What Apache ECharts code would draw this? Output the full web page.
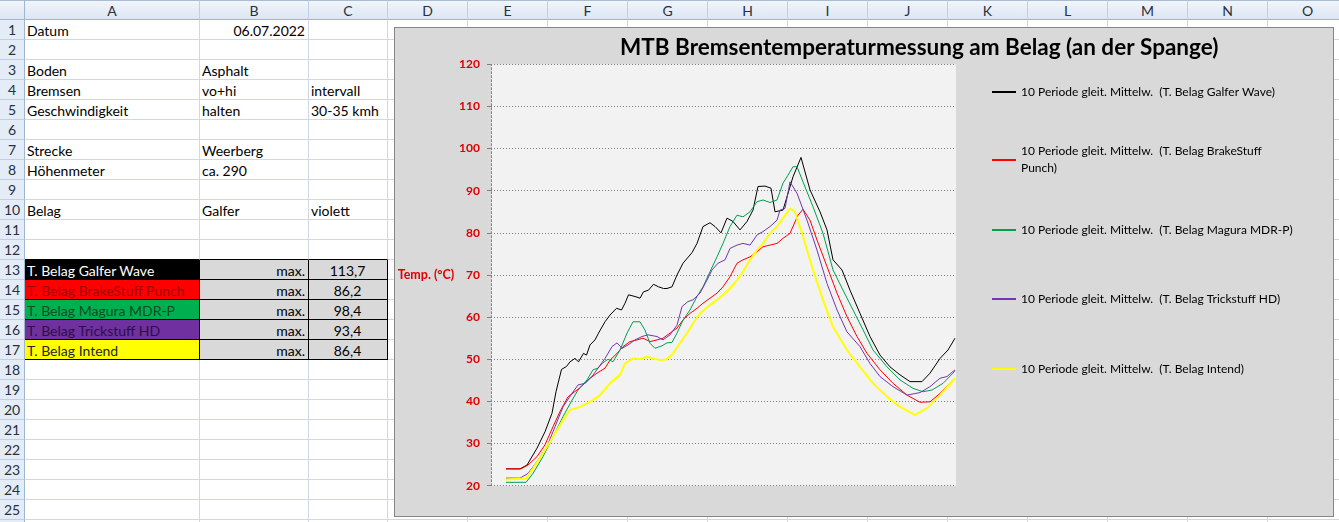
<!DOCTYPE html>
<html><head><meta charset="utf-8">
<script src="https://cdn.jsdelivr.net/npm/echarts@6/dist/echarts.min.js"></script>
<style>
html,body{margin:0;padding:0;width:1339px;height:522px;overflow:hidden;background:#fff;font-family:Lato,"Open Sans",sans-serif;}
#sheet{position:absolute;left:0;top:0;width:1339px;height:522px;}
.cell{position:absolute;box-sizing:border-box;border-right:1px solid #d0d7e5;border-bottom:1px solid #d0d7e5;font-size:14px;line-height:19px;white-space:nowrap;padding:1px 3px 0 2px;color:#000;}
.colh{position:absolute;top:0;height:20px;box-sizing:border-box;border-right:1px solid #c2cfe0;border-bottom:1px solid #9eb6ce;background:linear-gradient(#f1f5fb,#dce6f2);font-size:14px;line-height:20px;text-align:center;color:#27313f;border-top:1px solid #a9bcd3;}
.rowh{position:absolute;left:0;width:25px;height:20px;box-sizing:border-box;border-right:1px solid #9eb6ce;border-bottom:1px solid #c2cfe0;background:#e4ecf7;font-size:14px;line-height:20px;text-align:center;color:#27313f;}
#frame{position:absolute;left:394px;top:27px;width:940px;height:490px;box-sizing:border-box;border:1px solid #868686;background:#d9d9d9;}
#chart{position:absolute;left:395px;top:28px;width:938px;height:488px;}
</style>
</head><body>
<div id="sheet"></div>
<div id="frame"></div>
<div id="chart"></div>
<script>
// ---- spreadsheet content ----
const colNames = ['A','B','C','D','E','F','G','H','I','J','K','L','M','N','O'];
const colEdges = [25,200,309,388,468,548,628,708,788,868,948,1028,1108,1188,1268,1348];
const rowCount = 26;
const infoCells = [
  [1,'A','Datum'],[1,'B','06.07.2022','right'],
  [3,'A','Boden'],[3,'B','Asphalt'],
  [4,'A','Bremsen'],[4,'B','vo+hi'],[4,'C','intervall'],
  [5,'A','Geschwindigkeit'],[5,'B','halten'],[5,'C','30-35 kmh'],
  [7,'A','Strecke'],[7,'B','Weerberg'],
  [8,'A','Höhenmeter'],[8,'B','ca. 290'],
  [10,'A','Belag'],[10,'B','Galfer'],[10,'C','violett']
];
const padNames = ['T. Belag Galfer Wave','T. Belag BrakeStuff Punch','T. Belag Magura MDR-P','T. Belag Trickstuff HD','T. Belag Intend'];
const padMaxLabel = 'max.';
const padMax = ['113,7','86,2','98,4','93,4','86,4'];
const padFill = ['#000000','#ff0000','#00b050','#7030a0','#ffff00'];
const padText = ['#ffffff','#a00000','#0b4d22','#2c0f48','#262626'];

// ---- chart data (time index t, temperature °C) ----
const seriesNames = [
  '10 Periode gleit. Mittelw. (T. Belag Galfer Wave)',
  '10 Periode gleit. Mittelw. (T. Belag BrakeStuff Punch)',
  '10 Periode gleit. Mittelw. (T. Belag Magura MDR-P)',
  '10 Periode gleit. Mittelw. (T. Belag Trickstuff HD)',
  '10 Periode gleit. Mittelw. (T. Belag Intend)'
];
const galferT = [30,58,72,92,108,122,130,141,151,158,168,175,185,191,198,208,215,228,238,251,261,268,275,288,298,305,315,325,335,345,352,362,372,384,402,412,424,438,448,460,472,484,498,512,524,534,548,560,568,584,604,620,638,658,672,684,702,718,738,758,778,798,818,838,862,878,898,914,928];
const galferV = [24.0,24.0,24.9,28.9,32.8,37.2,42.3,47.6,48.3,49.4,50.2,49.4,51.4,51.0,53.4,54.6,56.2,58.9,60.5,62.1,61.7,63.3,65.3,64.9,64.5,66.0,66.4,67.8,67.2,66.8,66.8,67.2,70.0,72.8,75.3,77.5,81.5,82.4,81.5,80.0,83.5,82.7,80.7,82.7,85.4,91.0,91.1,90.6,85.0,85.4,93.3,97.9,90.2,85.0,80.7,73.6,71.2,66.4,60.9,55.4,51.0,48.2,46.3,44.7,44.7,46.7,50.2,52.2,55.0];
const brakeT = [30,60,74,92,108,124,138,154,172,184,198,212,228,238,252,264,278,292,304,318,332,344,358,372,384,398,412,424,438,452,464,478,492,504,518,532,544,558,572,584,598,614,624,638,652,672,692,712,732,752,778,804,832,858,878,898,918,928];
const brakeV = [24.0,24.0,24.9,26.9,29.7,34.0,37.6,41.1,42.7,43.9,45.5,46.7,47.9,49.8,51.4,53.0,54.2,54.6,55.0,54.2,54.6,55.0,56.2,57.4,59.3,60.9,62.1,63.3,64.5,65.7,67.2,69.6,72.8,73.6,74.3,75.5,76.7,77.1,77.5,78.7,79.9,84.2,85.6,83.0,78.3,72.0,65.7,60.1,55.4,51.4,47.5,44.3,41.5,39.8,39.9,41.9,44.3,45.5];
const maguraT = [30,70,84,104,124,144,162,174,192,204,214,224,234,244,258,272,284,298,308,318,328,342,352,362,372,384,398,412,424,438,452,464,478,492,504,518,532,544,558,572,584,594,604,612,624,644,664,684,704,724,744,764,792,818,844,864,882,904,924,928];
const maguraV = [20.8,20.8,22.9,26.9,31.6,36.4,40.3,42.7,45.1,47.5,47.9,49.2,50.0,49.4,52.2,56.2,58.9,58.9,56.9,53.8,52.6,53.2,53.9,54.0,56.2,59.3,61.7,64.9,67.2,70.8,74.3,77.5,81.5,84.2,83.8,85.0,87.4,87.8,87.2,87.8,91.8,93.7,95.7,95.7,92.1,86.2,79.9,71.2,66.4,61.7,57.0,52.2,48.2,45.1,43.1,42.3,42.7,44.3,46.7,47.3];
const trickT = [30,58,74,94,112,128,144,162,174,188,202,214,228,242,252,262,274,288,302,314,332,344,358,372,382,394,404,418,432,442,454,468,478,492,504,518,532,544,558,572,578,588,598,612,632,652,672,692,712,738,758,778,804,832,858,878,898,912,928];
const trickV = [21.8,21.8,22.9,26.1,29.3,34.0,38.7,41.9,43.9,44.3,45.9,47.9,50.2,53.0,53.9,52.6,53.4,54.6,55.4,55.8,55.4,54.6,55.8,58.1,62.5,63.7,64.1,65.7,68.8,71.2,72.8,73.6,76.3,77.1,77.5,77.1,79.5,80.3,81.5,83.0,85.4,85.8,92.1,89.4,83.0,75.9,68.0,61.7,56.5,53.0,49.0,45.9,43.5,41.5,42.1,43.5,45.5,45.9,47.5];
const intendT = [30,70,84,104,124,142,158,178,198,218,238,258,268,284,298,312,324,338,352,364,378,392,404,418,434,452,464,478,492,504,518,532,544,558,572,584,598,608,624,644,664,684,712,738,764,792,818,848,872,898,928];
const intendV = [21.5,21.7,24.1,27.7,31.6,35.2,38.0,38.7,39.9,41.5,44.3,46.3,49.0,50.2,50.0,50.6,50.2,49.8,50.0,51.4,53.8,56.2,58.5,60.9,62.5,64.1,65.3,66.8,68.8,70.8,73.6,75.9,77.5,79.9,81.5,83.5,85.8,85.0,79.1,71.2,64.1,57.7,52.2,48.2,44.3,41.1,38.7,36.8,38.4,41.5,45.5];
const yTicks = {min:20, max:120, interval:10};
const chartTitle = 'MTB Bremsentemperaturmessung am Belag (an der Spange)';
const yName = 'Temp. (°C)';

// ---- build sheet ----
const sheet = document.getElementById('sheet');
function add(cls, style, text){ const d=document.createElement('div'); d.className=cls; Object.assign(d.style, style); if(text!==undefined) d.textContent=text; sheet.appendChild(d); return d; }
add('colh',{left:'0px',width:'25px',borderRight:'1px solid #9eb6ce'});
colNames.forEach((n,i)=>add('colh',{left:colEdges[i]+'px',width:(colEdges[i+1]-colEdges[i])+'px'},n));
const cellMap = {};
infoCells.forEach(c=>cellMap[c[0]+c[1]]=c);
for(let r=1;r<=rowCount;r++){
  add('rowh',{top:(20*r)+'px'}, String(r));
  colNames.forEach((n,i)=>{
    const st={left:colEdges[i]+'px',top:(20*r)+'px',width:(colEdges[i+1]-colEdges[i])+'px',height:'20px'};
    let txt; const c=cellMap[r+n];
    if(c){ txt=c[2]; if(c[3]) st.textAlign=c[3]; }
    const k=r-13;
    if(k>=0 && k<5 && i<3){
      st.borderRight='1px solid #000'; st.borderBottom='1px solid #000';
      if(i===0){ st.background=padFill[k]; st.color=padText[k]; txt=padNames[k]; }
      else { st.background='#d9d9d9'; }
      if(i===1){ txt=padMaxLabel; st.textAlign='right'; }
      if(i===2){ txt=padMax[k]; st.textAlign='center'; }
    }
    if(r===12 && i<3){ st.borderBottom='1px solid #000'; }
    add('cell',st,txt);
  });
}

// ---- chart ----
const chart = echarts.init(document.getElementById('chart'), null, {renderer:'canvas'});
const colors = ['#000000','#ff0000','#00a050','#7038b0','#ffff00'];
const widths = [1,1,1,1,2];
const pairs = [[galferT,galferV],[brakeT,brakeV],[maguraT,maguraV],[trickT,trickV],[intendT,intendV]];
const series = pairs.map((p,i)=>({
  name: seriesNames[i], type:'line', showSymbol:false, symbol:'none',
  data: p[0].map((t,j)=>[t,p[1][j]]),
  lineStyle:{color:colors[i], width:widths[i]}, itemStyle:{color:colors[i]},
  emphasis:{disabled:true}
}));
const legendCenters = [92,160,230,299,369];
const legends = seriesNames.map((n,i)=>{
  const wrap = i===1;
  return {
    data:[n], orient:'vertical', left:596,
    top: wrap ? legendCenters[i]-28-25.5 : legendCenters[i]-28-7,
    itemWidth:24, itemHeight:14, padding:0, selectedMode:false,
    itemStyle:{opacity:0},
    formatter: wrap ? (name)=>'10 Periode gleit. Mittelw.  (T. Belag BrakeStuff\nPunch)' : (name)=>name.replace('Mittelw. ','Mittelw.  '),
    textStyle: wrap ? {fontFamily:'Lato',fontSize:12,color:'#000',lineHeight:17,padding:[17,0,0,0]} : {fontFamily:'Lato',fontSize:12,color:'#000',lineHeight:14}
  };
});
chart.setOption({
  animation:false,
  backgroundColor:'#d9d9d9',
  title:{text:chartTitle,left:225,top:7,padding:0,textStyle:{fontFamily:'Lato',fontSize:22.5,fontWeight:'bold',color:'#000',lineHeight:26}},
  legend: legends,
  grid:{left:96,top:36.3,width:465,height:421.4,show:true,backgroundColor:'#f2f2f2',borderWidth:0},
  xAxis:{type:'value',min:0,max:930,show:true,axisLine:{show:false},axisTick:{show:false},axisLabel:{show:false},splitLine:{show:false}},
  yAxis:{type:'value',min:yTicks.min,max:yTicks.max,interval:yTicks.interval,
    name:yName,nameLocation:'middle',nameRotate:0,nameGap:36,
    nameTextStyle:{fontFamily:'Lato',fontSize:12.5,fontWeight:'bold',color:'#e00000'},
    axisLine:{show:true,lineStyle:{color:'#808080',type:[2,2],width:1}},
    axisTick:{show:true,length:4,lineStyle:{color:'#808080'}},
    axisLabel:{margin:11,fontFamily:'Lato',fontSize:12,fontWeight:'bold',color:'#e00000'},
    splitLine:{show:true,lineStyle:{color:'#808080',type:[1,2],width:1}}
  },
  series: series
});
</script>
</body></html>
